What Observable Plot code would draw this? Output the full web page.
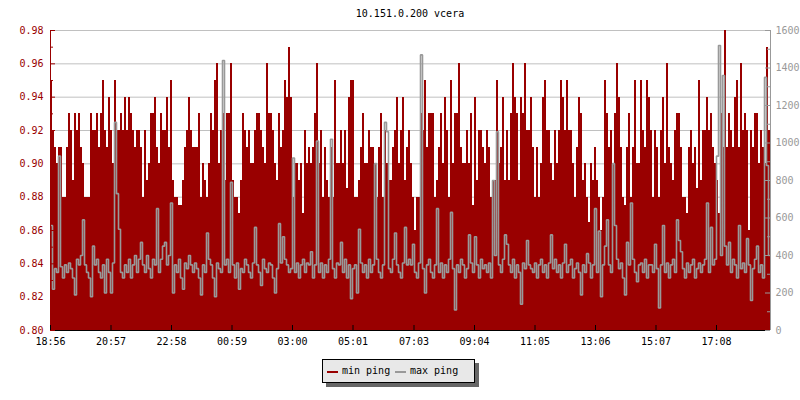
<!DOCTYPE html>
<html>
<head>
<meta charset="utf-8">
<script src="https://cdn.jsdelivr.net/npm/d3@7"></script>
<script src="https://cdn.jsdelivr.net/npm/@observablehq/plot@0.6"></script>
<style>
  body { margin: 0; background: #fff; }
  #wrap { position: relative; width: 800px; height: 400px; font-family: "DejaVu Sans Mono", monospace; font-size: 10px; }
  #title { position: absolute; left: 50px; width: 720px; top: 9px; line-height: 10px; text-align: center; color: #000; white-space: pre; }
  #legend { position: absolute; left: 322px; top: 359px; width: 153px; height: 24px; box-sizing: border-box; border: 1px solid #000; background: #e8e8e8; box-shadow: 4px 4px 0 #666; }
  #legend .sw { position: absolute; top: 11px; width: 11px; height: 2px; }
  #legend .tx { position: absolute; top: 6px; line-height: 10px; color: #000; white-space: pre; }
</style>
</head>
<body>
<div id="wrap">
  <div id="chart"></div>
  <div id="title"></div>
  <div id="legend"></div>
</div>
<script>
// ---- data ----
const title = "10.151.0.200 vcera";
const seriesNames = ["min ping", "max ping"];
const startLabel = "18:56";
const xTickLabels = ["18:56","20:57","22:58","00:59","03:00","05:01","07:03","09:04","11:05","13:06","15:07","17:08"];
const leftTicks = [0.80,0.82,0.84,0.86,0.88,0.90,0.92,0.94,0.96,0.98];
const leftMinorTicks = [0.81,0.83,0.85,0.87,0.89,0.91,0.93,0.95,0.97];
const rightTicks = [0,200,400,600,800,1000,1200,1400,1600];
const rightMinorTicks = [100,300,500,700,900,1100,1300,1500];
const leftDomain = [0.80, 0.98];
const rightDomain = [0, 1600];

// min ping (left axis), one value per 4 minutes over 24 h
const minPing = [
  .95,.92,.91,.90,.91,.91,.88,.88,.91,.93, .92,.89,.93,.92,.93,.91,.90,.88,.88,.88,
  .93,.92,.92,.93,.91,.93,.95,.92,.91,.94, .92,.90,.95,.92,.92,.93,.92,.94,.92,.94,
  .93,.92,.91,.92,.92,.91,.88,.92,.89,.90, .93,.93,.94,.91,.90,.93,.92,.92,.94,.91,
  .95,.89,.88,.88,.875,.875,.89,.91,.92,.94, .92,.91,.91,.91,.93,.88,.90,.89,.88,.90,
  .93,.92,.95,.96,.90,.92,.93,.89,.93,.93, .96,.89,.88,.88,.87,.89,.93,.92,.91,.92,
  .90,.90,.92,.93,.93,.92,.91,.90,.96,.93, .93,.92,.90,.89,.93,.91,.92,.95,.94,.97,
  .94,.88,.90,.90,.89,.90,.87,.92,.90,.91, .90,.91,.93,.96,.90,.92,.88,.91,.89,.88,
  .91,.88,.95,.90,.90,.92,.90,.92,.885,.94, .95,.95,.88,.88,.89,.91,.93,.90,.90,.92,
  .91,.91,.90,.88,.91,.93,.88,.92,.90,.89, .89,.91,.92,.94,.90,.92,.94,.89,.91,.92,
  .90,.88,.86,.88,.88,.93,.92,.95,.91,.93, .93,.93,.88,.89,.91,.93,.90,.94,.92,.88,
  .95,.90,.93,.93,.96,.91,.90,.90,.92,.90, .93,.875,.94,.89,.92,.92,.91,.90,.92,.91,
  .88,.89,.89,.95,.90,.91,.94,.89,.92,.89, .93,.96,.94,.93,.89,.94,.93,.96,.92,.92,
  .94,.91,.88,.91,.88,.90,.94,.95,.92,.92, .90,.89,.92,.90,.92,.95,.94,.92,.95,.92,
  .92,.90,.88,.91,.94,.93,.89,.90,.88,.865, .90,.89,.91,.89,.88,.86,.88,.95,.93,.91,
  .92,.90,.93,.96,.94,.91,.88,.875,.91,.93, .88,.91,.95,.90,.90,.95,.92,.91,.95,.94,
  .92,.88,.92,.91,.88,.92,.94,.90,.96,.91, .90,.89,.92,.93,.93,.91,.88,.88,.87,.91,
  .92,.90,.91,.885,.95,.89,.92,.92,.94,.92, .93,.91,.90,.89,.87,.93,.91,.98,.91,.93,
  .92,.91,.94,.95,.91,.96,.92,.93,.92,.86, .92,.91,.93,.93,.90,.92,.91,.90,.97,.92
];
// max ping (right axis), same sampling
const maxPing = [
  560,220,330,310,930,340,280,350,310,360, 330,280,190,380,350,400,590,350,310,280,
  180,450,350,380,310,280,350,200,380,310, 200,360,1110,730,540,310,280,350,310,380,
  280,350,400,310,380,470,350,310,400,330, 280,380,350,650,310,380,450,470,350,400,
  680,200,350,310,380,280,220,360,330,400, 350,310,360,330,280,190,350,310,520,380,
  350,280,180,360,330,310,1440,350,380,310, 790,350,280,360,220,330,310,380,350,310,
  280,360,550,350,310,240,380,330,310,360, 350,280,200,330,570,360,500,380,350,310,
  330,920,310,360,280,350,380,310,360,350, 420,280,350,1010,310,360,280,350,310,380,
  1020,330,280,360,350,470,310,380,280,350, 170,330,350,200,540,360,310,350,280,380,
  310,350,890,380,310,280,350,1110,1060,330, 310,380,520,350,310,280,360,550,350,380,
  350,460,310,280,360,1470,330,200,350,380, 310,280,350,650,310,360,280,350,310,380,
  630,330,110,350,310,380,350,280,330,510, 360,310,500,350,280,380,330,350,310,360,
  280,800,400,1060,350,310,380,510,460,350, 310,380,280,350,310,140,360,330,480,350,
  330,310,360,280,350,380,310,350,280,360, 510,330,380,310,350,280,360,460,310,350,
  380,280,330,360,310,190,350,310,410,360, 280,350,650,310,530,180,350,450,590,350,
  310,890,560,380,330,360,280,190,470,350, 680,380,310,260,350,360,310,380,280,350,
  350,310,460,330,120,350,560,310,360,280, 350,380,310,590,480,420,330,280,360,310,
  350,380,280,330,360,310,350,380,680,310, 550,350,380,930,1520,400,1360,450,350,470,
  310,380,350,280,560,330,360,310,490,350, 160,330,380,450,310,350,280,1350,880,400
];

// ---- styles ----
const RED = "#990000", GRAY = "#999999", GRID = "#c0c0c0";

// ---- build ----
const DAY = 24 * 3600e3;
function hm(s) { const [h, m] = s.split(":").map(Number); return Date.UTC(2020, 0, 1, h, m); }
const start = hm(startLabel);
const end = start + DAY;
const xTicks = xTickLabels.map(s => { let t = hm(s); if (t < start) t += DAY; return new Date(t); });
const step = DAY / minPing.length;
const rows = minPing.map((m, i) => ({
  t0: new Date(start + i * step),
  t1: new Date(start + (i + 1) * step),
  tm: new Date(start + (i + 0.5) * step),
  min: m,
  max: maxPing[i]
}));
const toLeft = d3.scaleLinear().domain(rightDomain).range(leftDomain);

const chart = Plot.plot({
  width: 800,
  height: 400,
  marginLeft: 50,
  marginRight: 30,
  marginTop: 30,
  marginBottom: 70,
  style: { fontFamily: "DejaVu Sans Mono", fontSize: "10px", background: "transparent", overflow: "visible" },
  x: { type: "utc", domain: [new Date(start), new Date(end)] },
  y: { domain: leftDomain },
  marks: [
    Plot.ruleY(leftTicks.slice(1), { stroke: GRID, strokeWidth: 1 }),
    Plot.rect(rows, { x1: "t0", x2: "t1", y1: leftDomain[0], y2: "min", fill: RED, inset: 0, shapeRendering: "crispEdges" }),
    Plot.line(rows, { x: "tm", y: d => toLeft(d.max), curve: "step", stroke: GRAY, strokeWidth: 1.6, strokeLinejoin: "miter" }),
    Plot.ruleY([leftDomain[0]], { stroke: "#000" }),
    Plot.ruleX([new Date(start)], { stroke: RED }),
    Plot.ruleX([new Date(end)], { stroke: GRAY }),
    Plot.tickY(leftTicks, { stroke: RED, insetRight: 715 }),
    Plot.tickY(leftMinorTicks, { stroke: RED, insetRight: 717 }),
    Plot.tickY(rightTicks.map(toLeft), { stroke: GRAY, insetLeft: 715 }),
    Plot.tickY(rightMinorTicks.map(toLeft), { stroke: GRAY, insetLeft: 717 }),
    Plot.tickX(xTicks, { stroke: "#000", insetTop: 295 }),
    Plot.axisY({ ticks: leftTicks, anchor: "left", tickSize: 0, tickPadding: 7, tickFormat: d3.format(".2f"), fill: RED, label: null }),
    Plot.axisY({ ticks: rightTicks.map(toLeft), anchor: "right", tickSize: 0, tickPadding: 5,
      tickFormat: d => String(Math.round(toLeft.invert(d))), fill: GRAY, label: null }),
    Plot.axisX({ ticks: xTicks, tickSize: 0, tickPadding: 7, tickFormat: d3.utcFormat("%H:%M"), fill: "#000", label: null })
  ]
});
document.getElementById("chart").appendChild(chart);

document.getElementById("title").textContent = title;
const lg = document.getElementById("legend");
const colors = [RED, GRAY];
const swLeft = [4, 72], txLeft = [19, 87];
seriesNames.forEach((name, i) => {
  const sw = document.createElement("div");
  sw.className = "sw"; sw.style.left = swLeft[i] + "px"; sw.style.background = colors[i];
  const tx = document.createElement("div");
  tx.className = "tx"; tx.style.left = txLeft[i] + "px"; tx.textContent = name;
  lg.appendChild(sw); lg.appendChild(tx);
});
</script>
</body>
</html>
